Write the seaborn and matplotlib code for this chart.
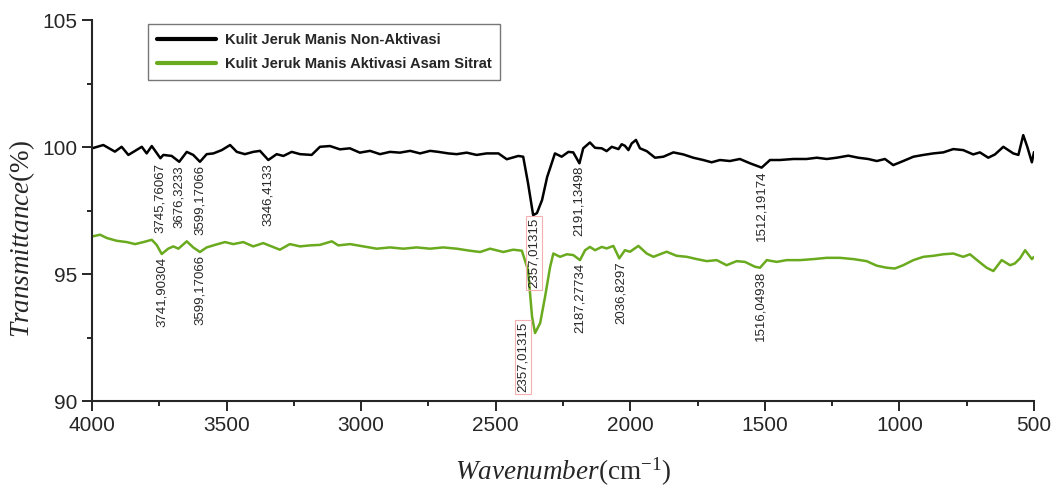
import matplotlib
matplotlib.use("Agg")
import matplotlib.pyplot as plt
from matplotlib.ticker import MultipleLocator
import pandas as pd
import seaborn as sns

# FTIR spectra
wn_non = [4000, 3958, 3915, 3890, 3865, 3840, 3815, 3797, 3778, 3746, 3735, 3704, 3676, 3648,
          3624, 3599, 3574, 3549, 3518, 3487, 3462, 3432, 3401, 3376, 3345, 3314, 3289, 3258,
          3227, 3184, 3153, 3116, 3079, 3042, 3005, 2967, 2930, 2893, 2856, 2818, 2781, 2744,
          2713, 2676, 2645, 2608, 2571, 2534, 2490, 2459, 2416, 2398, 2380, 2361, 2347, 2328,
          2309, 2298, 2280, 2255, 2230, 2212, 2189, 2175, 2150, 2131, 2106, 2088, 2069, 2044,
          2032, 2020, 2007, 1995, 1979, 1964, 1939, 1908, 1877, 1840, 1803, 1766, 1729, 1698,
          1667, 1630, 1593, 1555, 1512, 1481, 1444, 1394, 1345, 1307, 1270, 1233, 1190, 1153,
          1116, 1084, 1054, 1023, 986, 948, 911, 874, 837, 800, 763, 726, 701, 670, 645, 614,
          577, 558, 540, 525, 508, 500]
t_non = [99.95, 100.08, 99.82, 100.01, 99.69, 99.85, 100.01, 99.75, 100.04, 99.56, 99.69, 99.65,
         99.42, 99.81, 99.69, 99.42, 99.72, 99.75, 99.88, 100.08, 99.81, 99.72, 99.81, 99.85,
         99.49, 99.72, 99.65, 99.81, 99.72, 99.69, 100.01, 100.04, 99.91, 99.95, 99.78, 99.85,
         99.72, 99.81, 99.78, 99.85, 99.75, 99.85, 99.81, 99.75, 99.72, 99.78, 99.69, 99.75,
         99.75, 99.52, 99.65, 99.62, 98.58, 97.32, 97.4, 97.91, 98.82, 99.17, 99.75, 99.62,
         99.81, 99.79, 99.36, 99.95, 100.18, 99.97, 99.95, 99.84, 100.01, 99.92, 100.11, 100.05,
         99.88, 100.14, 100.28, 99.95, 99.84, 99.58, 99.62, 99.79, 99.71, 99.58, 99.49, 99.40,
         99.49, 99.45, 99.53, 99.36, 99.19, 99.49, 99.49, 99.53, 99.53, 99.58, 99.53, 99.58,
         99.66, 99.58, 99.53, 99.45, 99.53, 99.29, 99.45, 99.62, 99.69, 99.75, 99.79, 99.92,
         99.88, 99.71, 99.79, 99.58, 99.71, 100.01, 99.75, 99.69, 100.47, 100.01, 99.4, 99.8]

wn_act = [4000, 3970, 3945, 3908, 3871, 3840, 3809, 3778, 3760, 3741, 3717, 3698, 3679, 3648,
          3624, 3599, 3574, 3543, 3506, 3475, 3438, 3401, 3364, 3333, 3302, 3265, 3227, 3190,
          3153, 3109, 3085, 3041, 2992, 2942, 2893, 2843, 2794, 2744, 2695, 2645, 2596, 2558,
          2521, 2472, 2435, 2403, 2380, 2365, 2354, 2335, 2317, 2298, 2286, 2261, 2236, 2212,
          2187, 2168, 2150, 2131, 2106, 2088, 2063, 2041, 2020, 2001, 1970, 1939, 1914, 1890,
          1865, 1828, 1790, 1753, 1716, 1679, 1642, 1605, 1574, 1537, 1518, 1493, 1456, 1419,
          1369, 1320, 1270, 1221, 1171, 1122, 1084, 1047, 1017, 986, 948, 911, 874, 837, 800,
          763, 738, 707, 676, 651, 620, 589, 571, 552, 533, 508, 500]
t_act = [96.48, 96.55, 96.42, 96.31, 96.26, 96.18, 96.26, 96.35, 96.15, 95.79, 96.0, 96.09,
         96.0, 96.29, 96.05, 95.87, 96.05, 96.15, 96.26, 96.18, 96.26, 96.09, 96.22, 96.09,
         95.96, 96.18, 96.09, 96.13, 96.15, 96.29, 96.13, 96.18, 96.09, 96.0, 96.05, 96.0, 96.05,
         96.0, 96.05, 96.0, 95.92, 95.87, 96.0, 95.87, 95.96, 95.92, 95.16, 93.32, 92.68, 93.07,
         94.09, 95.28, 95.81, 95.68, 95.78, 95.75, 95.55, 95.94, 96.07, 95.94, 96.07, 96.01,
         96.11, 95.62, 95.94, 95.88, 96.11, 95.81, 95.68, 95.78, 95.88, 95.72, 95.68, 95.59,
         95.51, 95.55, 95.35, 95.51, 95.48, 95.29, 95.25, 95.55, 95.48, 95.55, 95.55, 95.59,
         95.64, 95.64, 95.59, 95.51, 95.33, 95.25, 95.22, 95.35, 95.55, 95.68, 95.72, 95.78,
         95.81, 95.68, 95.78, 95.51, 95.25, 95.12, 95.55, 95.35, 95.42, 95.62, 95.94, 95.59,
         95.68]

names = ["Kulit Jeruk Manis Non-Aktivasi", "Kulit Jeruk Manis Aktivasi Asam Sitrat"]
colors = ["#000000", "#6aaa1e"]

# peak labels (wavenumber, transmittance at the dip)
peak_non_lbl = ["3745,76067", "3676,3233", "3599,17066", "3346,4133", "2357,01315", "2191,13498", "1512,19174"]
peak_non_wn = [3745.8, 3676.3, 3599.2, 3346.4, 2357.0, 2191.1, 1512.2]
peak_non_t = [99.49, 99.38, 99.42, 99.49, 97.32, 99.36, 99.19]
peak_act_lbl = ["3741,90304", "3599,17066", "2357,01315", "2187,27734", "2036,8297", "1516,04938"]
peak_act_wn = [3741.9, 3599.2, 2357.0, 2187.3, 2036.8, 1516.0]
peak_act_t = [95.79, 95.87, 92.68, 95.55, 95.62, 95.25]

df = pd.concat([
    pd.DataFrame({"wn": wn_non, "T": t_non, "sample": names[0]}),
    pd.DataFrame({"wn": wn_act, "T": t_act, "sample": names[1]}),
])

sns.set_style("ticks")
plt.rcParams["font.family"] = ["Liberation Sans", "DejaVu Sans"]
plt.rcParams["mathtext.fontset"] = "custom"
plt.rcParams["mathtext.rm"] = "Liberation Serif"
plt.rcParams["mathtext.it"] = "Liberation Serif:italic"

fig = plt.figure(figsize=(10.59, 4.88), dpi=100)
ax = fig.add_axes([0.0869, 0.178, 0.8895, 0.781])

sns.lineplot(data=df, x="wn", y="T", hue="sample", palette=dict(zip(names, colors)),
             sort=False, estimator=None, lw=1.8, ax=ax)

ax.set_xlim(4000, 500)
ax.set_ylim(90, 105)
ax.xaxis.set_major_locator(MultipleLocator(500))
ax.xaxis.set_minor_locator(MultipleLocator(250))
ax.yaxis.set_major_locator(MultipleLocator(5))
ax.yaxis.set_minor_locator(MultipleLocator(2.5))
ax.tick_params(which="major", length=7, width=1.4, labelsize=15, direction="out")
ax.tick_params(which="minor", length=3.5, width=1.4, direction="out")
sns.despine(ax=ax)
for s in ["left", "bottom"]:
    ax.spines[s].set_linewidth(1.5)

ax.set_xlabel(r"$\mathit{Wavenumber}$(cm$^{-1}$)", fontsize=19.5, family="Liberation Serif", labelpad=15)
ax.set_ylabel(r"$\mathit{Transmittance}$(%)", fontsize=19.5, family="Liberation Serif")
ax.yaxis.set_label_coords(-0.058, 0.425)

box = dict(boxstyle="square,pad=0.15", fc="none", ec="#f4b0b0", lw=0.8)
for lbls, wns, ts in [(peak_non_lbl, peak_non_wn, peak_non_t), (peak_act_lbl, peak_act_wn, peak_act_t)]:
    for lbl, w, t in zip(lbls, wns, ts):
        boxed = lbl == "2357,01315"
        off = (0, -2)
        if boxed and t < 95:
            off = (-8, 8)
        ax.annotate(lbl, xy=(w, t), xytext=off, textcoords="offset points",
                    rotation=90, ha="center", va="top", fontsize=9.5,
                    bbox=box if boxed else None)

leg = ax.legend(loc="upper left", bbox_to_anchor=(0.0595, 0.9895), borderaxespad=0,
                fancybox=False, frameon=True, edgecolor="#555555", handlelength=4.0,
                handletextpad=0.6, borderpad=0.6, labelspacing=0.7,
                prop={"weight": "bold", "size": 10.6})
leg.get_frame().set_linewidth(1.0)
for h in leg.legend_handles:
    h.set_linewidth(3)

fig.savefig("out.png", dpi=100)
